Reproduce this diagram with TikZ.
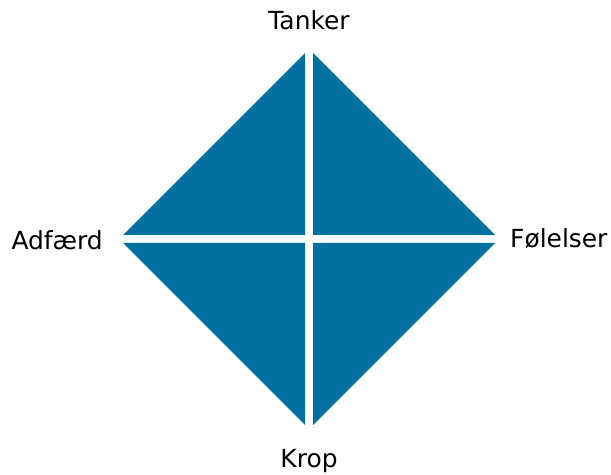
\documentclass[tikz,border=0pt]{standalone}
\usepackage{fontspec}
\setmainfont{DejaVu Sans}
\definecolor{quad}{RGB}{0,112,160}
\begin{document}
\begin{tikzpicture}[x=1bp,y=-1bp,
  quadrant/.style={fill=quad,draw=none},
  label/.style={font=\fontsize{25}{30}\selectfont,inner sep=0pt,anchor=base}]
\useasboundingbox (0,0) rectangle (611,475);
% diamond centre (309,239), half diagonal 190, gap half width 4
\fill[quadrant] (123,235) -- (305,235) -- (305,53) -- cycle;
\fill[quadrant] (313,53) -- (313,235) -- (495,235) -- cycle;
\fill[quadrant] (123,243) -- (305,243) -- (305,425) -- cycle;
\fill[quadrant] (313,425) -- (313,243) -- (495,243) -- cycle;
\node[label] (top) at (309,30) {Tanker};
\node[label] (bottom) at (309,467) {Krop};
\node[label,anchor=base east] (left) at (103,250) {Adfærd};
\node[label,anchor=base west] (right) at (510,248) {Følelser};
\end{tikzpicture}
\end{document}
